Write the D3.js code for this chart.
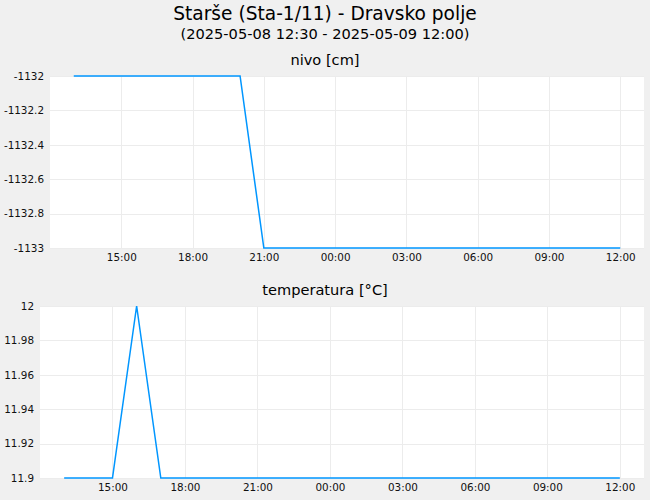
<!DOCTYPE html>
<html>
<head>
<meta charset="utf-8">
<script src="https://cdn.jsdelivr.net/npm/d3@7"></script>
<style>
  body { margin: 0; background: #f0f0f0; }
  svg { display: block; font-family: "DejaVu Sans", sans-serif; }
</style>
</head>
<body>
<svg></svg>
<script>
// hourly readings
let times = [
    '2025-05-08 13:00', '2025-05-08 14:00', '2025-05-08 15:00', '2025-05-08 16:00',
    '2025-05-08 17:00', '2025-05-08 18:00', '2025-05-08 19:00', '2025-05-08 20:00',
    '2025-05-08 21:00', '2025-05-08 22:00', '2025-05-08 23:00', '2025-05-09 00:00',
    '2025-05-09 01:00', '2025-05-09 02:00', '2025-05-09 03:00', '2025-05-09 04:00',
    '2025-05-09 05:00', '2025-05-09 06:00', '2025-05-09 07:00', '2025-05-09 08:00',
    '2025-05-09 09:00', '2025-05-09 10:00', '2025-05-09 11:00', '2025-05-09 12:00'
]
let nivo = [
    -1132, -1132, -1132, -1132, -1132, -1132, -1132, -1132,
    -1133, -1133, -1133, -1133, -1133, -1133, -1133, -1133,
    -1133, -1133, -1133, -1133, -1133, -1133, -1133, -1133
]
let temperatura = [
    11.9, 11.9, 11.9, 12.0, 11.9, 11.9, 11.9, 11.9,
    11.9, 11.9, 11.9, 11.9, 11.9, 11.9, 11.9, 11.9,
    11.9, 11.9, 11.9, 11.9, 11.9, 11.9, 11.9, 11.9
]
let xDomain = ['2025-05-08 12:00', '2025-05-09 13:00']
let xTicks = [
    '2025-05-08 15:00', '2025-05-08 18:00', '2025-05-08 21:00', '2025-05-09 00:00',
    '2025-05-09 03:00', '2025-05-09 06:00', '2025-05-09 09:00', '2025-05-09 12:00'
]
let nivoTicks = [-1133, -1132.8, -1132.6, -1132.4, -1132.2, -1132]
let tempTicks = [11.9, 11.92, 11.94, 11.96, 11.98, 12]

let width = 650
let height = 500
let parse = d3.timeParse('%Y-%m-%d %H:%M')

let svg = d3.select('svg')
    .attr('width', width)
    .attr('height', height)

svg.append('rect')
    .attr('width', width)
    .attr('height', height)
    .attr('fill', '#f0f0f0')

svg.append('text')
    .attr('x', 325).attr('y', 20)
    .attr('text-anchor', 'middle')
    .style('font-size', '18.6px')
    .text('Starše (Sta-1/11) - Dravsko polje')

svg.append('text')
    .attr('x', 325).attr('y', 39)
    .attr('text-anchor', 'middle')
    .style('font-size', '14.6px')
    .text('(2025-05-08 12:30 - 2025-05-09 12:00)')

let drawPanel = (box, title, values, ticks) => {
    let xScale = d3.scaleTime()
        .domain(xDomain.map(parse))
        .range([box.left, box.right])
    let yScale = d3.scaleLinear()
        .domain([ticks[0], ticks[ticks.length - 1]])
        .range([box.bottom, box.top])

    svg.append('text')
        .attr('x', 325).attr('y', box.top - 11)
        .attr('text-anchor', 'middle')
        .style('font-size', '14.6px')
        .text(title)

    svg.append('rect')
        .attr('x', box.left).attr('y', box.top)
        .attr('width', box.right - box.left)
        .attr('height', box.bottom - box.top)
        .attr('fill', 'white')

    // grid
    let xAxis = d3.axisBottom(xScale)
        .tickValues(xTicks.map(parse))
        .tickSize(-(box.bottom - box.top))
        .tickPadding(6)
        .tickFormat(d3.timeFormat('%H:%M'))
    let yAxis = d3.axisLeft(yScale)
        .tickValues(ticks)
        .tickSize(-(box.right - box.left))
        .tickPadding(6)
        .tickFormat((d) => String(+d.toFixed(2)))

    let gx = svg.append('g')
        .attr('transform', 'translate(0,' + box.bottom + ')')
        .call(xAxis)
    let gy = svg.append('g')
        .attr('transform', 'translate(' + box.left + ',0)')
        .call(yAxis)

    for (let g of [gx, gy]) {
        g.select('.domain').remove()
        g.selectAll('line').attr('stroke', '#ececec').attr('shape-rendering', 'crispEdges')
        g.selectAll('text').attr('fill', '#111').style('font-size', '10.4px').style('font-family', '"DejaVu Sans", sans-serif')
    }

    let line = d3.line()
        .x((d, i) => xScale(parse(times[i])))
        .y((d) => yScale(d))

    svg.append('path')
        .datum(values)
        .attr('d', line)
        .attr('fill', 'none')
        .attr('stroke', '#0096ff')
        .attr('stroke-width', 1.5)
}

drawPanel({ left: 50, right: 644, top: 76, bottom: 248 }, 'nivo [cm]', nivo, nivoTicks)
drawPanel({ left: 40, right: 644, top: 306, bottom: 478 }, 'temperatura [°C]', temperatura, tempTicks)
</script>
</body>
</html>
